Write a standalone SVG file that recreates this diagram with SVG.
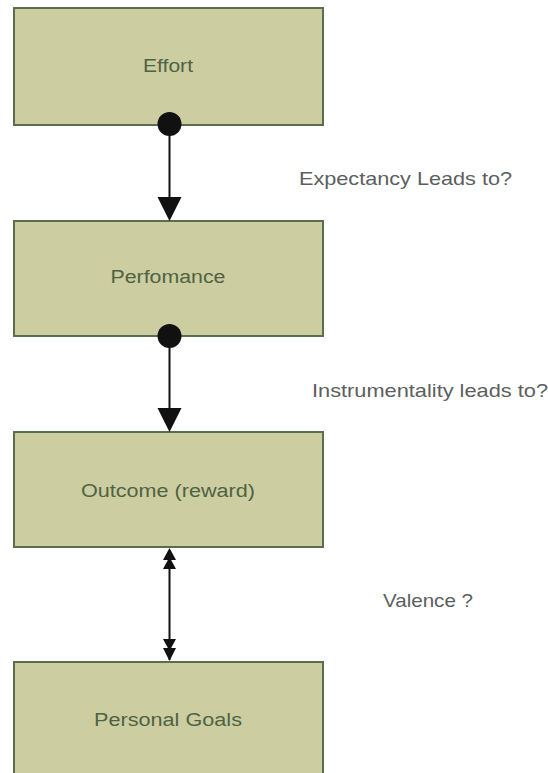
<svg xmlns="http://www.w3.org/2000/svg" width="548" height="773" viewBox="0 0 548 773">
  <style>
    .box { fill: #cdcda2; stroke: #5a6e4e; stroke-width: 2; }
    .node-text { font-family: "Liberation Sans", Arial, sans-serif; font-size: 18px; fill: #4f6342; text-anchor: middle; }
    .label { font-family: "Liberation Sans", Arial, sans-serif; font-size: 18.5px; fill: #5b605e; }
    .edge { stroke: #111; stroke-width: 2; fill: none; }
    .head { fill: #111; }
  </style>
  <rect width="548" height="773" fill="#ffffff"/>

  <g id="effort">
    <rect class="box" x="14" y="8" width="309" height="117"/>
    <text class="node-text" x="168" y="72" textLength="50" lengthAdjust="spacingAndGlyphs">Effort</text>
  </g>
  <g id="performance">
    <rect class="box" x="14" y="221" width="309" height="115"/>
    <text class="node-text" x="168" y="283" textLength="115" lengthAdjust="spacingAndGlyphs">Perfomance</text>
  </g>
  <g id="outcome">
    <rect class="box" x="14" y="432" width="309" height="115"/>
    <text class="node-text" x="168" y="497" textLength="174" lengthAdjust="spacingAndGlyphs">Outcome (reward)</text>
  </g>
  <g id="goals">
    <rect class="box" x="14" y="662" width="309" height="120"/>
    <text class="node-text" x="168" y="726" textLength="148" lengthAdjust="spacingAndGlyphs">Personal Goals</text>
  </g>

  <g id="connectors">
    <!-- Effort -> Performance -->
    <line class="edge" x1="169.5" y1="125" x2="169.5" y2="200"/>
    <circle class="head" cx="169.5" cy="124" r="12"/>
    <polygon class="head" points="157.5,197 181.5,197 169.5,221"/>
    <!-- Performance -> Outcome -->
    <line class="edge" x1="169.5" y1="336" x2="169.5" y2="410"/>
    <circle class="head" cx="169.5" cy="336" r="12"/>
    <polygon class="head" points="157.5,408 181.5,408 169.5,432"/>
    <!-- Outcome <-> Personal Goals -->
    <line class="edge" x1="169.5" y1="550" x2="169.5" y2="660"/>
    <polygon class="head" points="169.5,548 163,560 176,560"/>
    <polygon class="head" points="169.5,557 163,569 176,569"/>
    <polygon class="head" points="163,639 176,639 169.5,651"/>
    <polygon class="head" points="163,648 176,648 169.5,661"/>
  </g>

  <g id="labels">
    <text class="label" x="299" y="185" textLength="213" lengthAdjust="spacingAndGlyphs">Expectancy Leads to?</text>
    <text class="label" x="312" y="397" textLength="236" lengthAdjust="spacingAndGlyphs">Instrumentality leads to?</text>
    <text class="label" x="383" y="607" textLength="90" lengthAdjust="spacingAndGlyphs">Valence ?</text>
  </g>
</svg>
